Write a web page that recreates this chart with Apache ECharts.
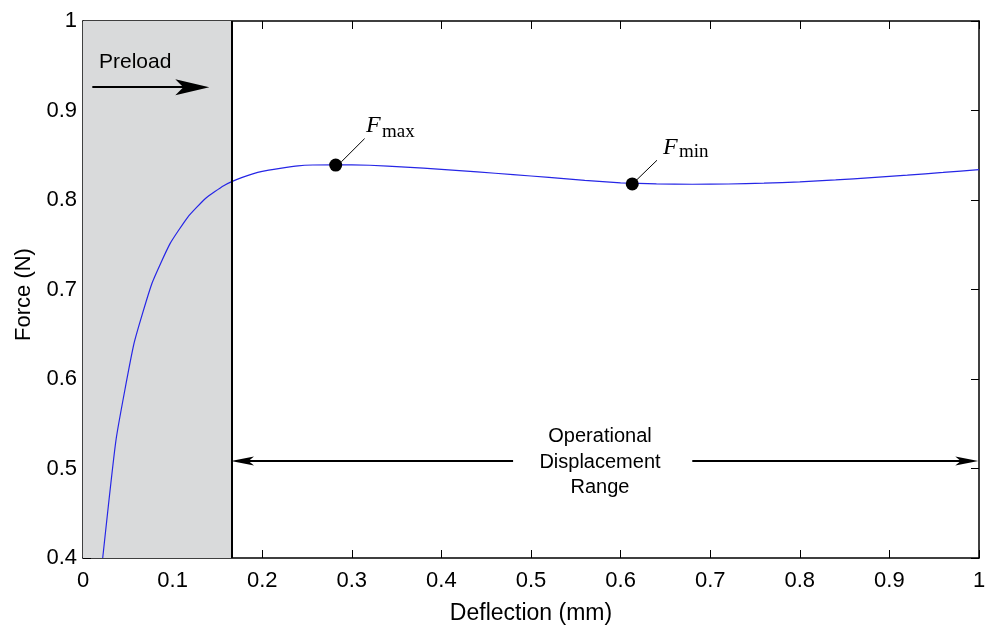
<!DOCTYPE html>
<html>
<head>
<meta charset="utf-8">
<script src="https://cdn.jsdelivr.net/npm/echarts@6/dist/echarts.min.js"></script>
<style>
  html, body { margin: 0; padding: 0; background: #fff; }
  #chart { width: 990px; height: 626px; }
</style>
</head>
<body>
<div id="chart"></div>
<script>
// force-deflection curve
const deflection = [0.022, 0.037, 0.057, 0.077, 0.097, 0.117, 0.137, 0.157, 0.177, 0.2,
  0.24, 0.28, 0.32, 0.36, 0.4, 0.44, 0.48, 0.52, 0.56, 0.6,
  0.64, 0.68, 0.72, 0.76, 0.8, 0.84, 0.88, 0.92, 0.96, 1.0];
const force = [0.400, 0.533, 0.640, 0.707, 0.751, 0.781, 0.802, 0.816, 0.825, 0.832,
  0.8382, 0.8394, 0.8388, 0.8368, 0.8342, 0.8314, 0.8284, 0.8252, 0.822, 0.8192,
  0.8180, 0.8176, 0.8179, 0.8188, 0.8203, 0.8224, 0.8250, 0.8278, 0.8308, 0.834];

// F_max and F_min markers
const peakX = [0.282, 0.613];
const peakY = [0.839, 0.818];

const xTickLabels = ['0', '0.1', '0.2', '0.3', '0.4', '0.5', '0.6', '0.7', '0.8', '0.9', '1'];
const yTickLabels = ['0.4', '0.5', '0.6', '0.7', '0.8', '0.9', '1'];

const preloadEnd = 0.1655;
const rangeArrowY = 0.5084;

const FONT = "'Liberation Sans', Arial, sans-serif";
const SERIF = "'Liberation Serif', 'Times New Roman', serif";
const arrowPath = 'path://M10,0 L20,34 L10,26 L0,34 Z';

const chart = echarts.init(document.getElementById('chart'));

const axisCommon = {
  axisLine: { show: true, onZero: false, lineStyle: { color: '#000', width: 1.5 } },
  axisTick: { show: true, inside: true, length: 8, lineStyle: { color: '#000', width: 1 } },
  splitLine: { show: false }
};

const option = {
  animation: false,
  backgroundColor: '#fff',
  grid: { left: 83, right: 11, top: 21, bottom: 68, containLabel: false, outerBoundsMode: 'none' },
  xAxis: [
    Object.assign({
      type: 'value', min: 0, max: 1, interval: 0.1, position: 'bottom',
      name: 'Deflection (mm)', nameLocation: 'middle', nameGap: 44,
      nameTextStyle: { fontFamily: FONT, fontSize: 23, color: '#000' },
      axisLabel: {
        margin: 12, fontFamily: FONT, fontSize: 22, color: '#000',
        formatter: v => xTickLabels[Math.round(v * 10)]
      }
    }, axisCommon),
    Object.assign({
      type: 'value', min: 0, max: 1, interval: 0.1, position: 'top',
      axisLabel: { show: false }
    }, axisCommon)
  ],
  yAxis: [
    Object.assign({
      type: 'value', min: 0.4, max: 1, interval: 0.1, position: 'left',
      name: 'Force (N)', nameLocation: 'middle', nameGap: 48,
      nameTextStyle: { fontFamily: FONT, fontSize: 22, color: '#000', padding: [0, 0, 0, -10] },
      axisLabel: {
        margin: 6, fontFamily: FONT, fontSize: 22, color: '#000',
        formatter: v => yTickLabels[Math.round((v - 0.4) * 10)]
      }
    }, axisCommon),
    Object.assign({
      type: 'value', min: 0.4, max: 1, interval: 0.1, position: 'right',
      axisLabel: { show: false }
    }, axisCommon)
  ],
  series: [
    {
      // preload shading, divider and arrows
      name: 'annotations',
      type: 'line',
      data: [],
      z: 1,
      silent: true,
      markArea: {
        silent: true,
        itemStyle: { color: '#d9dadb' },
        data: [[{ coord: [0, 0.4] }, { coord: [preloadEnd, 1] }]]
      },
      markLine: {
        silent: true,
        animation: false,
        label: { show: false },
        symbol: ['none', arrowPath],
        lineStyle: { color: '#000', type: 'solid', width: 2 },
        data: [
          [{ coord: [preloadEnd, 0.4], symbol: 'none' }, { coord: [preloadEnd, 1], symbol: 'none' }],
          [{ coord: [0.0104, 0.926] }, { coord: [0.122, 0.926], symbolSize: [16, 34] }],
          [{ coord: [0.48, rangeArrowY] }, { coord: [0.178, rangeArrowY], symbolSize: [9, 23] }],
          [{ coord: [0.68, rangeArrowY] }, { coord: [0.9864, rangeArrowY], symbolSize: [9, 23] }],
          [{ coord: [0.2882, 0.8425], symbol: 'none', lineStyle: { width: 1 } }, { coord: [0.3143, 0.8686], symbol: 'none' }],
          [{ coord: [0.6175, 0.822], symbol: 'none', lineStyle: { width: 1 } }, { coord: [0.6406, 0.8444], symbol: 'none' }]
        ]
      }
    },
    {
      name: 'Force',
      type: 'line',
      z: 3,
      showSymbol: false,
      symbol: 'none',
      smooth: 0.15,
      lineStyle: { color: '#2626e6', width: 1.2 },
      data: deflection.map((d, i) => [d, force[i]])
    },
    {
      name: 'Extrema',
      type: 'scatter',
      z: 4,
      symbolSize: 13,
      itemStyle: { color: '#000', opacity: 1 },
      data: peakX.map((d, i) => [d, peakY[i]])
    }
  ],
  graphic: [
    { type: 'text', z: 100, x: 99, y: 52, style: { text: 'Preload', fontFamily: FONT, fontSize: 21, fill: '#000' } },
    {
      type: 'text', z: 100, x: 600, y: 462,
      style: {
        text: 'Operational\nDisplacement\nRange', fontFamily: FONT, fontSize: 20, lineHeight: 25.5,
        fill: '#000', align: 'center', verticalAlign: 'middle'
      }
    },
    { type: 'text', z: 100, x: 366, y: 138, style: { text: 'F', fontFamily: SERIF, fontStyle: 'italic', fontSize: 24, fill: '#000', verticalAlign: 'bottom' } },
    { type: 'text', z: 100, x: 382, y: 142, style: { text: 'max', fontFamily: SERIF, fontSize: 19, fill: '#000', verticalAlign: 'bottom' } },
    { type: 'text', z: 100, x: 663, y: 160, style: { text: 'F', fontFamily: SERIF, fontStyle: 'italic', fontSize: 24, fill: '#000', verticalAlign: 'bottom' } },
    { type: 'text', z: 100, x: 679, y: 162, style: { text: 'min', fontFamily: SERIF, fontSize: 19, fill: '#000', verticalAlign: 'bottom' } }
  ]
};

chart.setOption(option);
</script>
</body>
</html>
